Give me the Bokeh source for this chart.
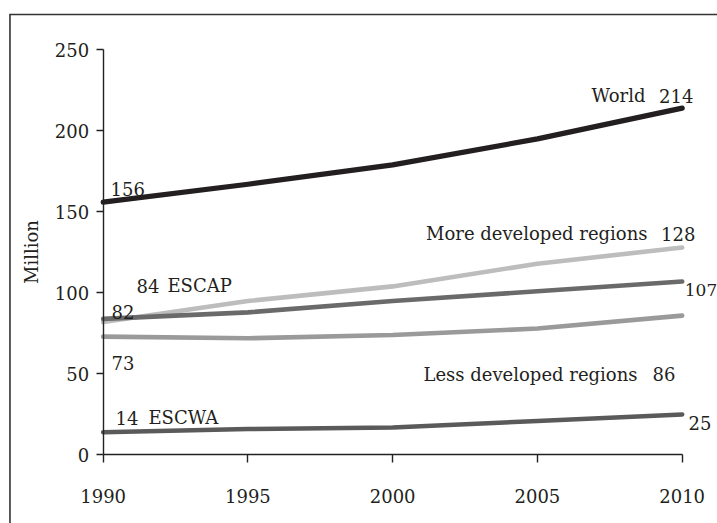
from bokeh.plotting import figure
from bokeh.models import Range1d, FixedTicker
from bokeh.embed import file_html
from bokeh.resources import INLINE
from bokeh.core.properties import value

# ---- data ----
years = [1990, 1995, 2000, 2005, 2010]
world = [156, 167, 179, 195, 214]
more_developed = [82, 95, 104, 118, 128]
escap = [84, 88, 95, 101, 107]
less_developed = [73, 72, 74, 78, 86]
escwa = [14, 16, 17, 21, 25]
y_ticks = [0, 50, 100, 150, 200, 250]
x_ticks = [1990, 1995, 2000, 2005, 2010]

FONT = "DejaVu Serif"
TXT = "#231f20"

# frame covers the whole canvas; axes are placed at fixed data locations
x0, x1 = 1986.453, 2011.22
y0, y1 = -42.26, 280.38
p = figure(width=717, height=523, output_backend="svg", toolbar_location=None,
           x_range=Range1d(x0, x1), y_range=Range1d(y0, y1),
           min_border_left=0, min_border_right=0, min_border_top=0, min_border_bottom=0)
p.outline_line_color = None
p.grid.grid_line_color = None
p.background_fill_color = "white"
p.border_fill_color = "white"

# surrounding box (only its top and left edges fall inside the crop)
bx, by = 1986.78, 271.75
p.line(x=[bx, bx, x1 + 1], y=[y0 - 10, by, by], line_color="#333333",
       line_width=1.6, line_join="miter")

series = [
    (world, "#231f20", 5.2),
    (more_developed, "#bdbdbd", 4.6),
    (escap, "#6a6a6a", 4.6),
    (less_developed, "#9a9a9a", 4.6),
    (escwa, "#5a5a5a", 4.6),
]
for vals, col, w in series:
    p.line(years, vals, line_color=col, line_width=w, line_cap="round", line_join="round")

# axes
for ax in (p.xaxis[0], p.yaxis[0]):
    ax.axis_line_color = "#222222"
    ax.axis_line_width = 1.4
    ax.major_tick_line_color = "#222222"
    ax.major_tick_line_width = 1.4
    ax.minor_tick_line_color = None
    ax.major_tick_in = 0
    ax.major_label_text_font = FONT
    ax.major_label_text_font_size = "18px"
    ax.major_label_text_color = TXT

p.xaxis.ticker = FixedTicker(ticks=x_ticks)
p.xaxis.bounds = (x_ticks[0], x_ticks[-1])
p.xaxis.fixed_location = y_ticks[0]
p.xaxis.major_tick_out = 8
p.xaxis.major_label_standoff = 26

p.yaxis.ticker = FixedTicker(ticks=y_ticks)
p.yaxis.bounds = (y_ticks[0], y_ticks[-1])
p.yaxis.fixed_location = x_ticks[0]
p.yaxis.major_tick_out = 7
p.yaxis.major_label_standoff = 7
p.yaxis.axis_label = "Million"
p.yaxis.axis_label_text_font = FONT
p.yaxis.axis_label_text_font_size = "18px"
p.yaxis.axis_label_text_font_style = "normal"
p.yaxis.axis_label_text_color = TXT
p.yaxis.axis_label_standoff = 10

# labels anchored to data points with pixel offsets
def lab(x, y, t, dx, dy, align="left", size="18px"):
    p.text(x=[x], y=[y], text=[t], x_offset=dx, y_offset=dy,
           text_font=value(FONT), text_font_size=size, text_color=TXT,
           text_align=align, text_baseline="alphabetic")

first, last = years[0], years[-1]
lab(first, world[0], str(world[0]), 7.3, -13.6)
lab(last, world[-1], str(world[-1]), 11.3, -12.6, "right")
lab(last, world[-1], "World", -36.7, -12.6, "right")
lab(last, more_developed[-1], str(more_developed[-1]), 13.3, -14, "right")
lab(last, more_developed[-1], "More developed regions", -34.7, -14, "right")
lab(first, escap[0], str(escap[0]), 33.3, -33.3)
lab(first, escap[0], "ESCAP", 64.3, -33.3)
lab(first, more_developed[0], str(more_developed[0]), 8.3, -9.6)
lab(first, less_developed[0], str(less_developed[0]), 8.3, 26.8)
lab(first, escwa[0], str(escwa[0]), 12.3, -14.8)
lab(first, escwa[0], "ESCWA", 45.3, -14.8)
lab(last, escap[-1], str(escap[-1]), 2.6, 8.9, size="17px")
lab(last, less_developed[-1], str(less_developed[-1]), -6.7, 58.9, "right")
lab(last, less_developed[-1], "Less developed regions", -44.7, 58.9, "right")
lab(last, escwa[-1], str(escwa[-1]), 6.3, 9)

open("out.html", "w").write(file_html(p, INLINE))
